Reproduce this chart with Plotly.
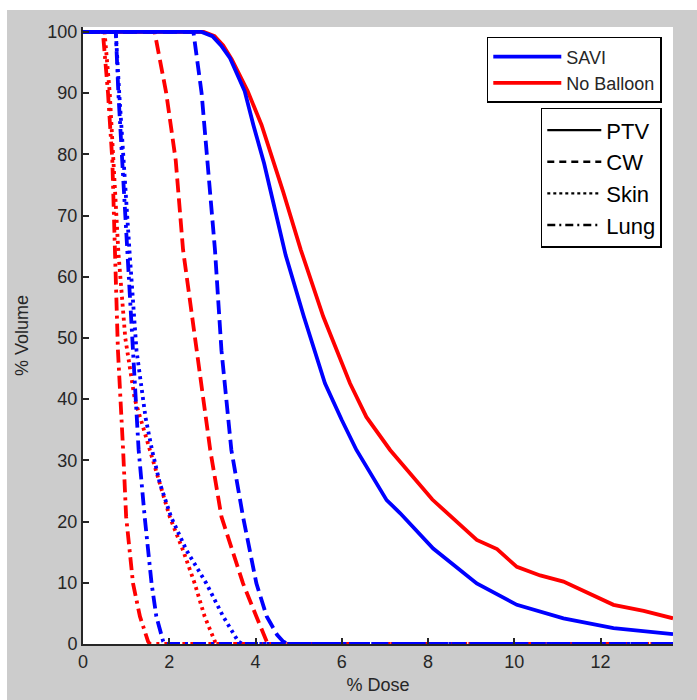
import plotly.graph_objects as go

X_MAX = 13.68

# SAVI (blue) curves
savi_ptv_x = [0, 2.75, 3.0, 3.2, 3.41, 3.75, 3.95, 4.2, 4.4, 4.7, 5.12, 5.61, 6.0, 6.34, 7.04, 7.35, 8.12, 9.13, 10.06, 11.14, 12.3, 13.68]
savi_ptv_y = [100, 100, 99.3, 97.8, 95.7, 90.3, 84.8, 78.5, 72.5, 63.5, 53.5, 42.6, 36.6, 31.7, 23.5, 21.4, 15.6, 9.9, 6.4, 4.2, 2.6, 1.6]
savi_cw_x = [0, 2.56, 2.75, 2.9, 3.06, 3.21, 3.44, 3.71, 4.02, 4.26, 4.5, 4.64, 4.75, 13.68]
savi_cw_y = [100, 100, 90, 78, 64.4, 48, 31.7, 20.8, 9.9, 4.5, 1.5, 0.4, 0, 0]
savi_skin_x = [0, 0.76, 0.84, 0.93, 1.08, 1.24, 1.45, 1.6, 1.78, 2.04, 2.4, 2.86, 3.25, 3.6, 3.7, 13.68]
savi_skin_y = [100, 100, 90, 80, 64, 48, 37, 31.7, 26.3, 20.8, 15.3, 9.9, 4.5, 0.4, 0, 0]
savi_lung_x = [0, 0.76, 0.82, 0.9, 1.04, 1.16, 1.29, 1.43, 1.59, 1.70, 1.86, 1.9, 13.68]
savi_lung_y = [100, 100, 90, 80, 64.4, 48, 31.7, 20.8, 9.9, 4.5, 0.4, 0, 0]

# No Balloon (red) curves
nob_ptv_x = [0, 2.8, 3.05, 3.25, 3.45, 3.82, 4.14, 4.64, 5.05, 5.57, 6.19, 6.57, 7.12, 7.35, 8.1, 9.13, 9.6, 10.06, 10.6, 11.14, 11.7, 12.3, 13.0, 13.68]
nob_ptv_y = [100, 100, 99.3, 97.8, 95.5, 90.3, 84.8, 73.9, 64.4, 53.5, 42.6, 37.1, 31.7, 29.8, 23.6, 17.0, 15.5, 12.6, 11.2, 10.2, 8.3, 6.4, 5.4, 4.2]
nob_cw_x = [0, 1.66, 1.93, 2.15, 2.32, 2.63, 2.95, 3.21, 3.71, 4.02, 4.26, 4.35, 13.68]
nob_cw_y = [100, 100, 90, 79, 64.4, 48, 31.7, 20.8, 9.9, 4.5, 0.4, 0, 0]
nob_skin_x = [0, 0.5, 0.62, 0.72, 0.82, 0.98, 1.2, 1.55, 1.78, 2.01, 2.32, 2.59, 2.82, 3.06, 3.12, 13.68]
nob_skin_y = [100, 100, 90, 78, 64, 50, 40, 31.7, 26.3, 20.8, 15.3, 9.9, 4.5, 0.4, 0, 0]
nob_lung_x = [0, 0.46, 0.58, 0.68, 0.74, 0.81, 0.93, 1.0, 1.16, 1.32, 1.51, 1.55, 13.68]
nob_lung_y = [100, 100, 90, 79, 64.4, 48, 31.7, 20.8, 9.9, 4.5, 0.4, 0, 0]

x_ticks = [0, 2, 4, 6, 8, 10, 12]
y_ticks = [0, 10, 20, 30, 40, 50, 60, 70, 80, 90, 100]
group_names = ["SAVI", "No Balloon"]
structure_names = ["PTV", "CW", "Skin", "Lung"]

BLUE = "#0000ff"
RED = "#ff0000"
DASH = {"PTV": "solid", "CW": "14px,6px", "Skin": "3px,4px", "Lung": "13px,5px,3px,5px"}
LEG_DASH = {"PTV": "solid", "CW": "7px,5px", "Skin": "3px,3px", "Lung": "8px,4px,2px,4px"}

fig = go.Figure()

red_sets = [("PTV", nob_ptv_x, nob_ptv_y), ("CW", nob_cw_x, nob_cw_y),
            ("Skin", nob_skin_x, nob_skin_y), ("Lung", nob_lung_x, nob_lung_y)]
blue_sets = [("PTV", savi_ptv_x, savi_ptv_y), ("CW", savi_cw_x, savi_cw_y),
             ("Skin", savi_skin_x, savi_skin_y), ("Lung", savi_lung_x, savi_lung_y)]

for color, sets in [(RED, red_sets), (BLUE, blue_sets)]:
    for name, xs, ys in sets:
        fig.add_trace(go.Scatter(x=xs, y=ys, mode="lines", showlegend=False,
                                 line=dict(color=color, width=3.8, dash=DASH[name]),
                                 hoverinfo="skip"))

# Legend 1: colours
for gname, color in zip(group_names, [BLUE, RED]):
    fig.add_trace(go.Scatter(x=[None], y=[None], mode="lines", name=gname,
                             legend="legend", legendgroup="g_" + gname,
                             line=dict(color=color, width=3.8)))
# Legend 2: line styles
for sname in structure_names:
    fig.add_trace(go.Scatter(x=[None], y=[None], mode="lines", name=sname,
                             legend="legend2", legendgroup="s_" + sname,
                             line=dict(color="black", width=2.4, dash=LEG_DASH[sname])))

FONT = "Liberation Sans, Arial, Helvetica, sans-serif"
AX = "#262626"

fig.update_layout(
    width=697, height=700,
    margin=dict(l=83, r=24, t=27, b=56),
    paper_bgcolor="#cccccc",
    plot_bgcolor="white",
    font=dict(family=FONT, color=AX),
    xaxis=dict(range=[0, X_MAX], tickvals=x_ticks, ticks="inside", ticklen=6,
               tickwidth=1.5, tickcolor=AX, showline=True, linecolor=AX, linewidth=2,
               showgrid=False, zeroline=False, tickfont=dict(size=18, color=AX),
               automargin=False,
               title=dict(text="% Dose", font=dict(size=18, color=AX), standoff=8)),
    yaxis=dict(range=[0, 100.8], tickvals=y_ticks, ticks="inside", ticklen=6,
               tickwidth=1.5, tickcolor=AX, showline=True, linecolor=AX, linewidth=2,
               showgrid=False, zeroline=False, tickfont=dict(size=18, color=AX),
               automargin=False,
               title=dict(text="% Volume", font=dict(size=18, color=AX), standoff=14)),
    legend=dict(x=0.981, xanchor="right", y=0.984, yanchor="top",
                bgcolor="white", bordercolor="black", borderwidth=1.5,
                font=dict(size=18, color=AX, family=FONT), traceorder="grouped",
                tracegroupgap=0, itemwidth=68),
    legend2=dict(x=0.981, xanchor="right", y=0.869, yanchor="top",
                 bgcolor="white", bordercolor="black", borderwidth=1.5,
                 font=dict(size=22, color="black", family=FONT), traceorder="grouped",
                 tracegroupgap=0, itemwidth=54),
    shapes=[
        dict(type="rect", xref="paper", yref="paper", x0=-0.2, x1=1.1,
             y0=(644 - 10) / 617, y1=1.2, fillcolor="white", line=dict(width=0), layer="above"),
        dict(type="rect", xref="paper", yref="paper", x0=-0.2, x1=(7 - 83) / 590,
             y0=-0.2, y1=1.2, fillcolor="white", line=dict(width=0), layer="above"),
    ],
)

fig.write_html("out.html")
